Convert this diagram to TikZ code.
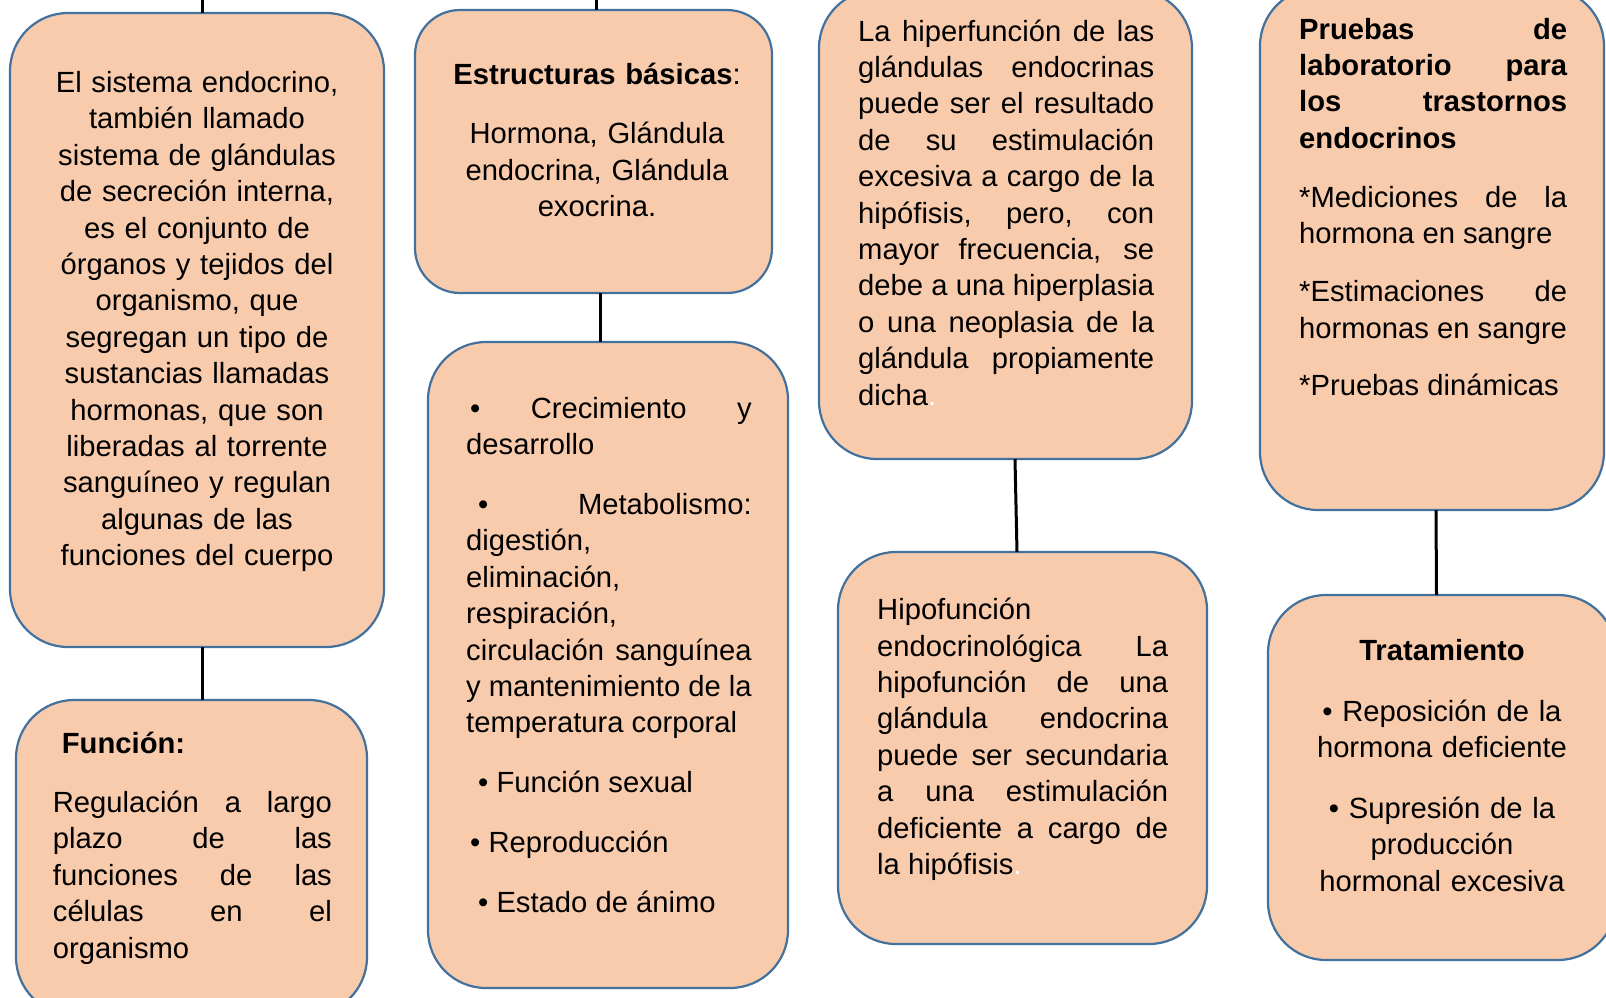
\documentclass[tikz,border=0pt]{standalone}
\usepackage{fontspec}
\setmainfont{Liberation Sans}

\definecolor{relleno}{HTML}{F8CBAD}
\definecolor{borde}{HTML}{41719C}
\newcommand{\fuente}{\fontsize{29.2pt}{36.4pt}\selectfont}
\newcommand{\parrafo}[1][23pt]{\par\vspace{#1}}
\tolerance=10000
\hbadness=10000

\tikzset{
  bloque/.style={draw=borde, fill=relleno, line width=2.2pt, rounded corners=58pt,
    inner sep=0pt, outer sep=0pt},
  texto/.style={inner sep=0pt, font=\fuente, text width=#1, align=justify, anchor=north west},
  centrado/.style={inner sep=0pt, font=\fuente, text width=#1, align=center, anchor=north},
  enlace/.style={line width=3pt, black}
}

\begin{document}
\begin{tikzpicture}[x=1pt, y=-1pt]

  % page
  \useasboundingbox (0,0) rectangle (1606,997);
  \fill[white] (0,0) rectangle (1606,997);
  \clip (0,0) rectangle (1606,997);

  % first column
  \node[bloque, minimum width=374pt, minimum height=634pt] (sistema) at (197,330) {};
  \node[bloque, minimum width=351pt, minimum height=315pt] (funcion) at (191.5,857.5) {};
  % second column
  \node[bloque, rounded corners=45pt, minimum width=357pt, minimum height=283pt] (estructuras) at (593.5,151.5) {};
  \node[bloque, minimum width=360pt, minimum height=646pt] (procesos) at (608,665) {};
  % third column
  \node[bloque, minimum width=373pt, minimum height=469pt] (hiper) at (1005.5,224.5) {};
  \node[bloque, minimum width=369pt, minimum height=392pt] (hipo) at (1022.5,748) {};
  % fourth column
  \node[bloque, minimum width=344pt, minimum height=522pt] (pruebas) at (1432,249) {};
  \node[bloque, minimum width=348pt, minimum height=365pt] (tratamiento) at (1442,777.5) {};

  % links
  \coordinate (tope1) at (202,-2);
  \coordinate (tope2) at (596,-2);
  \draw[enlace] (tope1) -- ([xshift=5pt]sistema.north);
  \draw[enlace] (tope2) -- ([xshift=2.5pt]estructuras.north);
  \draw[enlace] ([xshift=5pt]sistema.south) -- ([xshift=10.5pt]funcion.north);
  \draw[enlace] ([xshift=6.5pt]estructuras.south) -- ([xshift=-8pt]procesos.north);
  \draw[enlace] ([xshift=9.5pt]hiper.south) -- ([xshift=-5.5pt]hipo.north);
  \draw[enlace] ([xshift=4pt]pruebas.south) -- ([xshift=-5.5pt]tratamiento.north);

  % texts
  \node[centrado=360pt] (txtsistema) at (197,66.8) {\strut El sistema endocrino,\\
    también llamado\\ sistema de glándulas\\ de secreción interna,\\ es el conjunto de\\
    órganos y tejidos del\\ organismo, que\\ segregan un tipo de\\ sustancias llamadas\\
    hormonas, que son\\ liberadas al torrente\\ sanguíneo y regulan\\ algunas de las\\
    funciones del cuerpo};
  \node[texto=279pt] (txtfuncion) at (52.7,727.5) {\strut\hspace*{9pt}\textbf{Función:}\parrafo
    Regulación a largo\linebreak plazo de las\linebreak funciones de las\linebreak
    células en el\linebreak organismo};
  \node[centrado=340pt] (txtestructuras) at (597,58.8) {\strut\textbf{Estructuras básicas}:\parrafo
    Hormona, Glándula\\ endocrina, Glándula\\ exocrina.};
  \node[texto=285.5pt] (txtprocesos) at (466,392.5) {\strut\hspace*{4pt}\textbullet\ Crecimiento y\linebreak
    desarrollo\parrafo[23.6pt]
    \hspace*{12pt}\textbullet\ Metabolismo:\linebreak digestión,\linebreak eliminación,\linebreak
    respiración,\linebreak circulación sanguínea\linebreak y mantenimiento de la\linebreak
    temperatura corporal\parrafo[23.6pt]
    \hspace*{12pt}\textbullet\ Función sexual\parrafo[23.4pt]
    \hspace*{4pt}\textbullet\ Reproducción\parrafo[23.4pt]
    \hspace*{12pt}\textbullet\ Estado de ánimo};
  \node[texto=296pt] (txthiper) at (858,15.5) {\strut La hiperfunción de las\linebreak
    glándulas endocrinas\linebreak puede ser el resultado\linebreak de su estimulación\linebreak
    excesiva a cargo de la\linebreak hipófisis, pero, con\linebreak mayor frecuencia, se\linebreak
    debe a una hiperplasia\linebreak o una neoplasia de la\linebreak glándula propiamente\linebreak
    dicha\textcolor{white}{.}};
  \node[texto=291pt] (txthipo) at (877,594) {\strut Hipofunción\linebreak
    endocrinológica La\linebreak hipofunción de una\linebreak glándula endocrina\linebreak
    puede ser secundaria\linebreak a una estimulación\linebreak deficiente a cargo de\linebreak
    la hipófisis\textcolor{white}{.}};
  \node[texto=268pt] (txtpruebas) at (1299,13.5) {\strut\textbf{Pruebas de\linebreak
    laboratorio para\linebreak los trastornos\linebreak endocrinos}\parrafo[22.3pt]
    *Mediciones de la\linebreak hormona en sangre\parrafo[21.8pt]
    *Estimaciones de\linebreak hormonas en sangre\parrafo[20.8pt]
    *Pruebas dinámicas};
  \node[centrado=330pt] (txttratamiento) at (1442,635) {\strut\textbf{Tratamiento}\parrafo[24.2pt]
    \textbullet\ Reposición de la\\ hormona deficiente\parrafo[24.2pt]
    \textbullet\ Supresión de la\\ producción\\ hormonal excesiva};

\end{tikzpicture}
\end{document}
